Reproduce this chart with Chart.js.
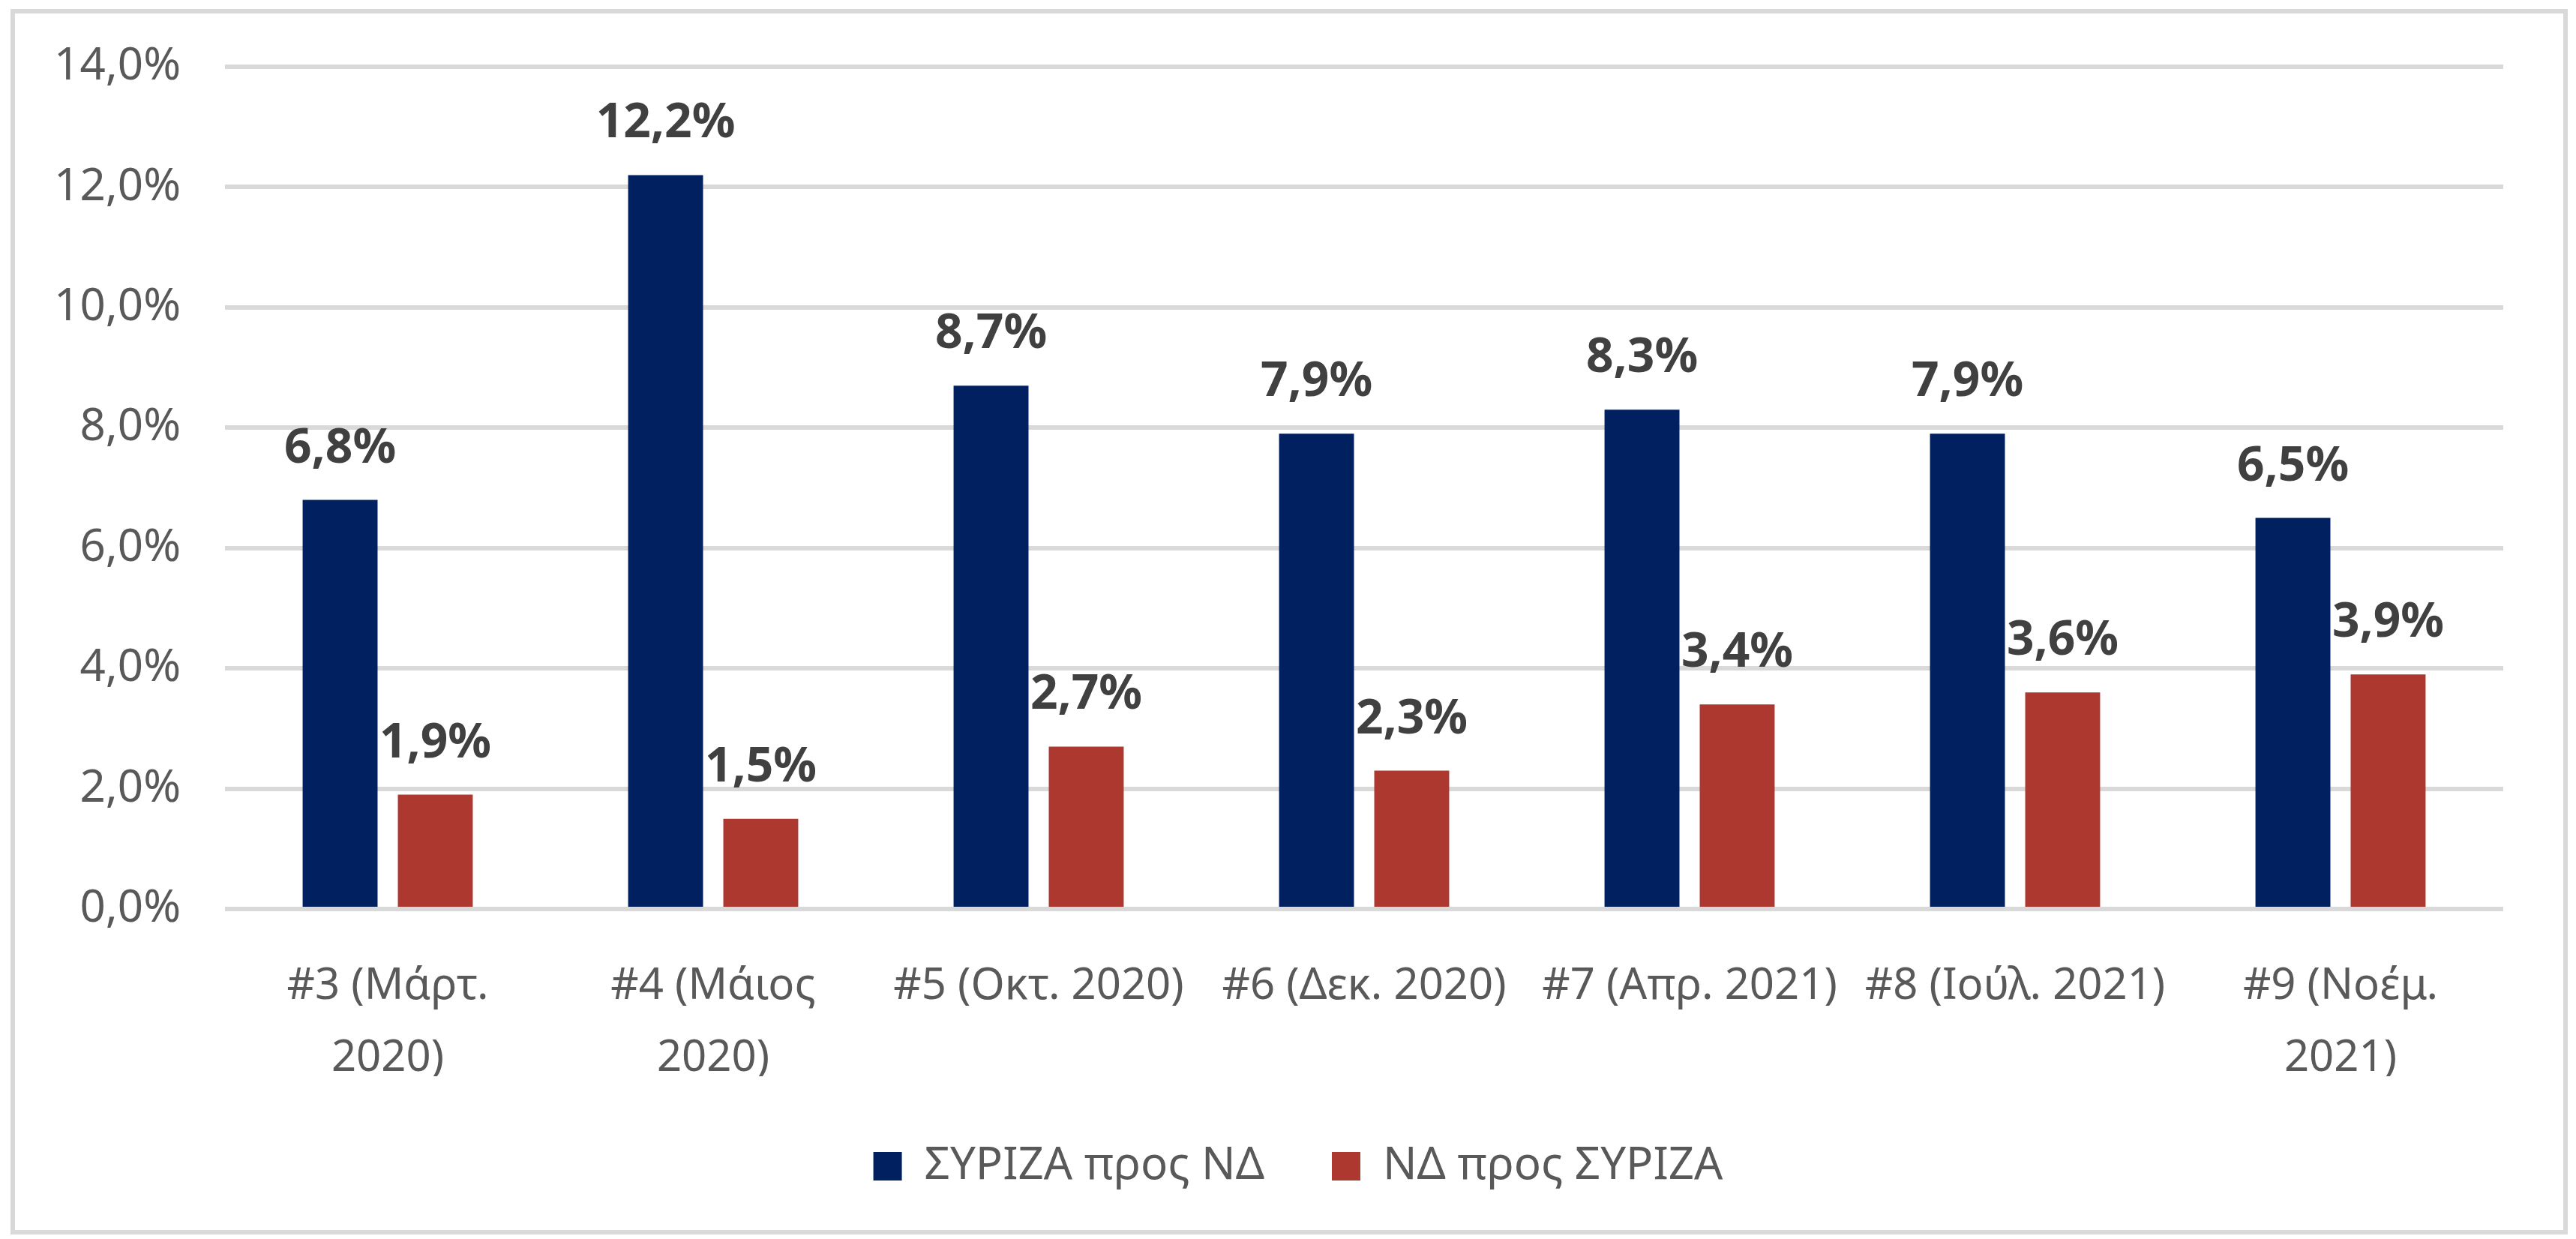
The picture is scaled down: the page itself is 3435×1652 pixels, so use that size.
<!DOCTYPE html>
<html>
<head>
<meta charset="utf-8">
<script src="https://cdn.jsdelivr.net/npm/chart.js@4.4.1/dist/chart.umd.min.js"></script>
<style>
  html, body { margin: 0; padding: 0; background: #fff; }
  #frame {
    position: absolute; left: 14px; top: 12px;
    width: 3410px; height: 1634px;
    border: 6px solid #d9d9d9; box-sizing: border-box;
  }
  canvas { display: block; }
</style>
</head>
<body>
<div id="frame"><canvas id="chart" width="3398" height="1622"></canvas></div>
<script>
// data
const categories = [
  ['#3 (Μάρτ.', '2020)'],
  ['#4 (Μάιος', '2020)'],
  '#5 (Οκτ. 2020)',
  '#6 (Δεκ. 2020)',
  '#7 (Απρ. 2021)',
  '#8 (Ιούλ. 2021)',
  ['#9 (Νοέμ.', '2021)'],
];
const seriesNames = ['ΣΥΡΙΖΑ προς ΝΔ', 'ΝΔ προς ΣΥΡΙΖΑ'];
const syrizaToNd = [6.8, 12.2, 8.7, 7.9, 8.3, 7.9, 6.5];
const ndToSyriza = [1.9, 1.5, 2.7, 2.3, 3.4, 3.6, 3.9];
const yTicks = [0, 2, 4, 6, 8, 10, 12, 14];

const FONT = '"Noto Sans", "Open Sans", sans-serif';
const pct = (v) => v.toFixed(1).replace('.', ',') + '%';

const barLabels = {
  id: 'barLabels',
  afterDatasetsDraw(chart) {
    const ctx = chart.ctx;
    ctx.save();
    ctx.font = `bold 64px ${FONT}`;
    ctx.fillStyle = '#404040';
    ctx.textAlign = 'center';
    ctx.textBaseline = 'alphabetic';
    chart.data.datasets.forEach((ds, i) => {
      chart.getDatasetMeta(i).data.forEach((bar, j) => {
        ctx.fillText(pct(ds.data[j]), bar.x, bar.y - 50);
      });
    });
    ctx.restore();
  },
};

const legendShift = {
  id: 'legendShift',
  afterLayout(chart) {
    chart.legend.left += 52;
    chart.legend.right += 52;
  },
};

new Chart(document.getElementById('chart'), {
  type: 'bar',
  data: {
    labels: categories,
    datasets: [
      {
        label: seriesNames[0],
        data: syrizaToNd,
        backgroundColor: '#002060',
        categoryPercentage: 0.585,
        barPercentage: 0.787,
      },
      {
        label: seriesNames[1],
        data: ndToSyriza,
        backgroundColor: '#ad3830',
        categoryPercentage: 0.585,
        barPercentage: 0.787,
      },
    ],
  },
  options: {
    responsive: false,
    devicePixelRatio: 1,
    animation: false,
    layout: { padding: { left: 0, right: 80, top: 71, bottom: 45 } },
    plugins: {
      tooltip: { enabled: false },
      legend: {
        position: 'bottom',
        labels: {
          boxWidth: 38,
          boxHeight: 38,
          padding: 90,
          color: '#595959',
          font: { family: FONT, size: 60 },
        },
      },
    },
    scales: {
      x: {
        grid: { display: false, drawTicks: false },
        border: { display: false },
        ticks: {
          autoSkip: false,
          maxRotation: 0,
          padding: 56,
          color: '#595959',
          font: { family: FONT, size: 58, lineHeight: 1.65 },
        },
        afterFit: (scale) => { scale.height = 223; },
      },
      y: {
        min: 0,
        max: 14,
        afterBuildTicks: (scale) => { scale.ticks = yTicks.map((value) => ({ value })); },
        // invisible tick marks give the gap between labels and plot
        grid: { color: '#d9d9d9', lineWidth: 6, drawTicks: true, tickLength: 59, tickColor: 'rgba(0,0,0,0)' },
        border: { display: false },
        ticks: {
          padding: 0,
          color: '#595959',
          font: { family: FONT, size: 60, lineHeight: 1.2 },
          callback: (value) => pct(value),
        },
        afterFit: (scale) => { scale.width = 280; },
      },
    },
  },
  plugins: [barLabels, legendShift],
});
</script>
</body>
</html>
